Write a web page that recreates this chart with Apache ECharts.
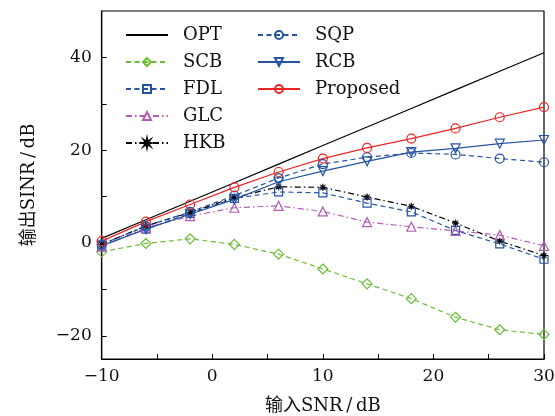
<!DOCTYPE html>
<html><head><meta charset="utf-8">
<script src="https://cdn.jsdelivr.net/npm/echarts@6/dist/echarts.min.js"></script>
<style>html,body{margin:0;padding:0;background:#fff}#c{width:555px;height:416px}</style>
</head><body><div id="c"></div>
<script>
const snr = [-10, -6, -2, 2, 6, 10, 14, 18, 22, 26, 30];
const optVals = [1, 5, 9, 13, 17, 21, 25, 29, 33, 37, 41];
const scbVals = [-1.9, -0.1, 0.9, -0.3, -2.4, -5.6, -8.8, -12.0, -16.0, -18.7, -19.7];
const fdlVals = [-0.6, 3.0, 6.4, 9.6, 11.0, 10.8, 8.6, 6.7, 2.7, -0.2, -3.5];
const glcVals = [-0.8, 3.3, 5.8, 7.6, 8.0, 6.8, 4.5, 3.5, 2.6, 1.7, -0.6];
const hkbVals = [-0.3, 3.7, 6.6, 9.8, 12.1, 12.0, 9.9, 7.9, 4.3, 0.4, -2.7];
const sqpVals = [-0.3, 3.6, 6.7, 10.2, 14.0, 17.0, 18.5, 19.4, 19.1, 18.2, 17.4];
const rcbVals = [-0.6, 3.0, 6.2, 9.4, 13.2, 15.5, 17.6, 19.6, 20.4, 21.4, 22.2];
const proposedVals = [0.4, 4.6, 8.3, 12.0, 15.3, 18.2, 20.5, 22.5, 24.7, 27.1, 29.3];
const xTickLabels = [-10, 0, 10, 20, 30];
const yTickLabels = [-20, 0, 20, 40];

const pair = v => snr.map((x, i) => [x, v[i]]);
const FONT = 'DejaVu Serif';
const GREEN = '#6cbd35', BLUE = '#2453a6', MAG = '#b35db8', RED = '#ec2424', BLACK = '#000';
const DASH = [5, 3.5];
const DASHDOT = [6, 3, 1.5, 3];
const STAR = 'path://M10,0 L3.23,1.34 L7.07,7.07 L1.34,3.23 L0,10 L-1.34,3.23 L-7.07,7.07 L-3.23,1.34 L-10,0 L-3.23,-1.34 L-7.07,-7.07 L-1.34,-3.23 L0,-10 L1.34,-3.23 L7.07,-7.07 L3.23,-1.34 Z';
const minus = v => String(v).replace('-', '\u2212');

function mk(name, data, color, type, symbol, size, opts) {
  opts = opts || {};
  return Object.assign({
    name: name, type: 'line', data: pair(data),
    symbol: symbol, symbolSize: size, showSymbol: opts.hide ? false : true,
    lineStyle: { color: color, width: 1.2, type: type },
    itemStyle: opts.hide
      ? { color: 'rgba(0,0,0,0)', borderColor: 'rgba(0,0,0,0)', borderWidth: 0 }
      : { color: opts.fill || 'rgba(255,255,255,0)', borderColor: color, borderWidth: opts.bw || 1.2 },
    color: color,
    animation: false
  }, opts.extra || {});
}

const series = [
  mk('OPT', optVals, BLACK, 'solid', 'circle', 0, { hide: true }),
  mk('SCB', scbVals, GREEN, DASH, 'diamond', 10),
  mk('FDL', fdlVals, BLUE, DASH, 'rect', 8),
  mk('GLC', glcVals, MAG, DASHDOT, 'triangle', 9),
  mk('HKB', hkbVals, BLACK, DASHDOT, STAR, 7, { fill: BLACK, bw: 0.6 }),
  mk('SQP', sqpVals, BLUE, DASH, 'circle', 9),
  mk('RCB', rcbVals, BLUE, 'solid', 'triangle', 9, { extra: { symbolRotate: 180 } }),
  mk('Proposed', proposedVals, RED, 'solid', 'circle', 9)
];

const legendCommon = {
  orient: 'vertical', itemWidth: 42, itemHeight: 10, itemGap: 9,
  textStyle: { fontFamily: FONT, fontSize: 18, color: '#111', padding: [0, 0, 0, 10] },
  padding: 0
};

const chart = echarts.init(document.getElementById('c'), null, { renderer: 'canvas' });
chart.setOption({
  backgroundColor: '#fff',
  animation: false,
  grid: { left: 101.7, right: 11, top: 11, bottom: 57, show: true, borderColor: '#000', borderWidth: 1.2, backgroundColor: 'transparent', outerBoundsMode: 'none', containLabel: false },
  legend: [
    Object.assign({ left: 125, top: 26, data: ['OPT', 'SCB', 'FDL', 'GLC', 'HKB'] }, legendCommon),
    Object.assign({ left: 257, top: 26, data: ['SQP', 'RCB', 'Proposed'] }, legendCommon)
  ],
  xAxis: {
    type: 'value', min: -10, max: 30, interval: 10,
    name: '输入SNR\u2009/\u2009dB', nameLocation: 'middle', nameGap: 38,
    nameTextStyle: { fontFamily: FONT + ', Noto Sans CJK SC', fontSize: 18, color: '#111' },
    axisLine: { show: true, onZero: false, lineStyle: { color: '#000', width: 1.2 } },
    axisTick: { show: true, inside: true, length: 5, lineStyle: { color: '#000' }, customValues: [-10, -5, 0, 5, 10, 15, 20, 25, 30] },
    axisLabel: { fontFamily: FONT, fontSize: 17, color: '#111', margin: 9, customValues: xTickLabels, formatter: minus },
    splitLine: { show: false }
  },
  yAxis: {
    type: 'value', min: -25, max: 50,
    name: '输出SINR\u2009/\u2009dB', nameLocation: 'middle', nameGap: 63, nameRotate: 90,
    nameTextStyle: { fontFamily: FONT + ', Noto Sans CJK SC', fontSize: 18, color: '#111' },
    axisLine: { show: true, onZero: false, lineStyle: { color: '#000', width: 1.2 } },
    axisTick: { show: true, inside: true, length: 5, lineStyle: { color: '#000' }, customValues: [-20, -10, 0, 10, 20, 30, 40] },
    axisLabel: { fontFamily: FONT, fontSize: 17, color: '#111', margin: 10, customValues: yTickLabels, formatter: minus },
    splitLine: { show: false }
  },
  series: series
});
</script>
</body></html>
